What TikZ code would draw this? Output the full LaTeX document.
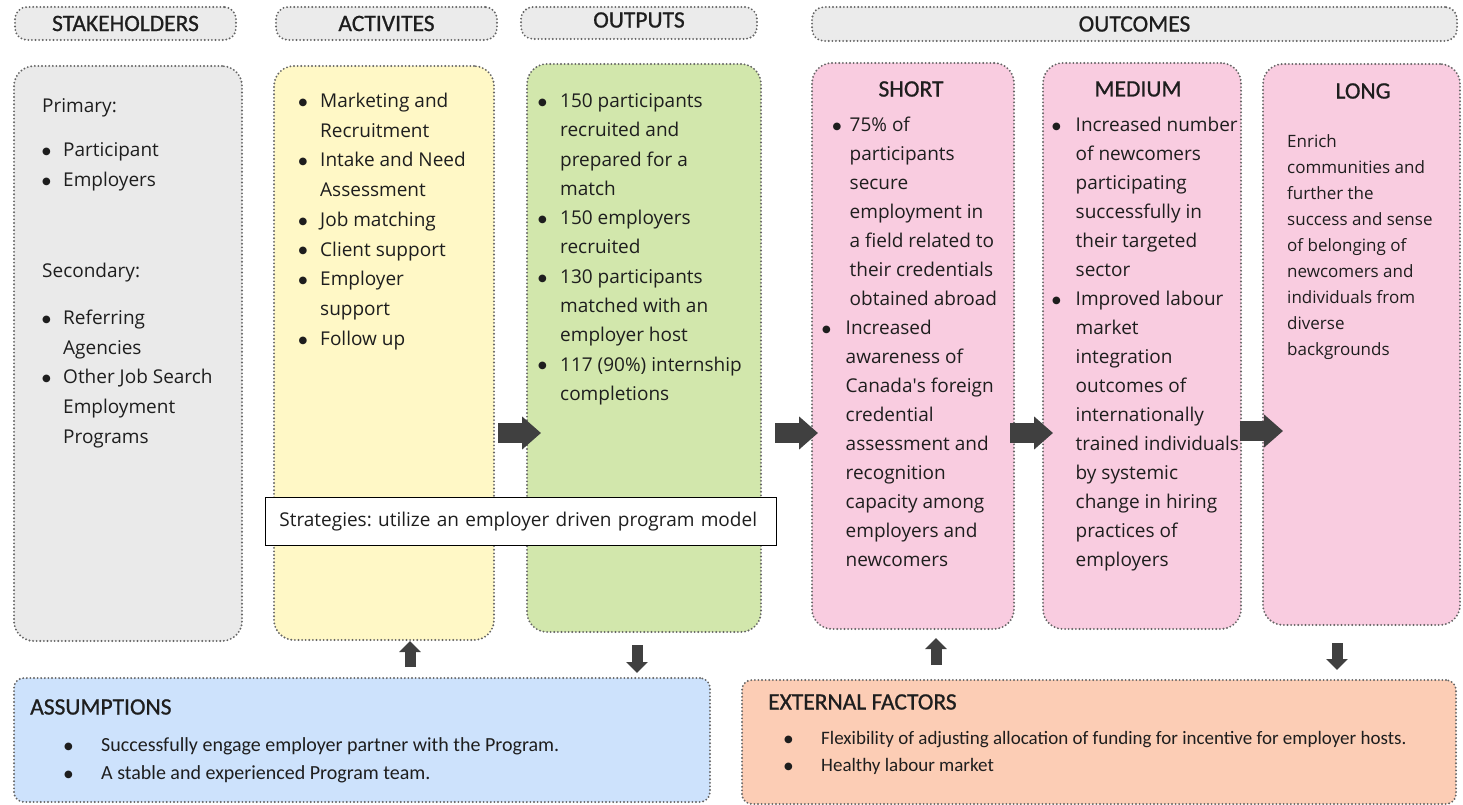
\documentclass[tikz,border=0pt]{standalone}
\usepackage{fontspec}
\setmainfont{Open Sans}
\newfontfamily\capfont{Carlito}
\newfontfamily\titlefont[FakeBold=0.8]{Carlito}
\newfontfamily\dotfont{DejaVu Sans}
\usetikzlibrary{arrows.meta,calc}

\definecolor{hdrfill}{RGB}{235,235,235}
\definecolor{stkfill}{RGB}{234,234,234}
\definecolor{actfill}{RGB}{255,248,198}
\definecolor{outfill}{RGB}{210,231,172}
\definecolor{pinkfill}{RGB}{249,204,224}
\definecolor{asmfill}{RGB}{205,226,252}
\definecolor{extfill}{RGB}{252,205,181}
\definecolor{dotgray}{RGB}{100,100,100}
\definecolor{arrowgray}{RGB}{64,64,64}
\definecolor{ink}{RGB}{30,30,30}

\frenchspacing
% bullet column of a given width, and the matching indent for wrapped lines
\newcommand{\bul}[1]{\makebox[#1][l]{\raisebox{2.2pt}{\dotfont\fontsize{10}{10}\selectfont ●}}}
\newcommand{\ind}[1]{\hspace*{#1}}

\tikzset{
  panel/.style={draw=dotgray, line width=2.1pt, dash pattern=on 0pt off 3.6pt,
    line cap=round, rounded corners=20pt, inner sep=0pt, outer sep=0pt, anchor=north west},
  hdr/.style={panel, fill=hdrfill, rounded corners=12pt},
  lowpanel/.style={panel, rounded corners=10pt},
  hdrtext/.style={font=\titlefont\fontsize{23.5}{28}\selectfont, text=ink, inner sep=0pt, anchor=center},
  body/.style={font=\fontsize{19}{#1}\selectfont, text=ink, align=left, inner sep=0pt, anchor=north west},
  lowtext/.style={font=\capfont\fontsize{#1}{28}\selectfont, text=ink, align=left, inner sep=0pt, anchor=north west},
  flow/.style={draw=arrowgray, line width=20pt, -{Triangle[length=19pt,width=32pt]}},
  vflow/.style={draw=arrowgray, line width=11pt, -{Triangle[length=11pt,width=21pt]}},
}

\begin{document}
\begin{tikzpicture}[x=1pt,y=-1pt]
\useasboundingbox (0,0) rectangle (1463,805);

% column headings
\node[hdr, minimum width=221pt, minimum height=33pt] (hstk) at (15,7) {};
\node[hdrtext] (hstkt) at (hstk.center) {STAKEHOLDERS};
\node[hdr, minimum width=221pt, minimum height=33pt] (hact) at (276,7) {};
\node[hdrtext] (hactt) at (hact.center) {ACTIVITES};
\node[hdr, minimum width=236pt, minimum height=32pt] (hout) at (521,7) {};
\node[hdrtext] (houtt) at ($(hout.center)+(0,-3)$) {OUTPUTS};
\node[hdr, minimum width=645pt, minimum height=34pt] (hoc) at (812,7) {};
\node[hdrtext] (hoct) at (hoc.center) {OUTCOMES};

% main columns
\node[panel, fill=stkfill, minimum width=228pt, minimum height=575pt] (stk) at (14,66) {};
\node[panel, fill=actfill, minimum width=220pt, minimum height=574pt] (act) at (274,66) {};
\node[panel, fill=outfill, minimum width=234pt, minimum height=568pt] (out) at (527,64) {};
\node[panel, fill=pinkfill, minimum width=202pt, minimum height=566pt] (short) at (812,63) {};
\node[panel, fill=pinkfill, minimum width=198pt, minimum height=566pt] (med) at (1043,63) {};
\node[panel, fill=pinkfill, minimum width=197pt, minimum height=561pt] (long) at (1263,64) {};

% stakeholders
\node[body=29.8] (stktxt) at (42,91.1) {\strut Primary:\\[15pt]
\bul{21pt}Participant\\
\bul{21pt}Employers\\[61pt]
Secondary:\\[17pt]
\bul{21pt}Referring\\
\ind{21pt}Agencies\\
\bul{21pt}Other Job Search\\
\ind{21pt}Employment\\
\ind{21pt}Programs};

% activities
\node[body=29.75] (acttxt) at (298.5,86.4) {\strut\bul{21.5pt}Marketing and\\
\ind{21.5pt}Recruitment\\
\bul{21.5pt}Intake and Need\\
\ind{21.5pt}Assessment\\
\bul{21.5pt}Job matching\\
\bul{21.5pt}Client support\\
\bul{21.5pt}Employer\\
\ind{21.5pt}support\\
\bul{21.5pt}Follow up};

% outputs
\node[body=29.3] (outtxt) at (538,86.7) {\strut\bul{22pt}150 participants\\
\ind{22pt}recruited and\\
\ind{22pt}prepared for a\\
\ind{22pt}match\\
\bul{22pt}150 employers\\
\ind{22pt}recruited\\
\bul{22pt}130 participants\\
\ind{22pt}matched with an\\
\ind{22pt}employer host\\
\bul{22pt}117 (90\%) internship\\
\ind{22pt}completions};

% short-term outcomes
\node[hdrtext] (shorth) at (911,89) {SHORT};
\node[body=29.05] (shorttxt) at (822,110.7) {\strut\ind{10.5pt}\bul{17pt}75\% of\\
\ind{27.5pt}participants\\
\ind{27.5pt}secure\\
\ind{27.5pt}employment in\\
\ind{27.5pt}a field related to\\
\ind{27.5pt}their credentials\\
\ind{27.5pt}obtained abroad\\
\bul{23.5pt}Increased\\
\ind{23.5pt}awareness of\\
\ind{23.5pt}Canada\textquotesingle s foreign\\
\ind{23.5pt}credential\\
\ind{23.5pt}assessment and\\
\ind{23.5pt}recognition\\
\ind{23.5pt}capacity among\\
\ind{23.5pt}employers and\\
\ind{23.5pt}newcomers};

% medium-term outcomes
\node[hdrtext] (medh) at (1138,89) {MEDIUM};
\node[body=29.05] (medtxt) at (1052,110.7) {\strut\bul{23.5pt}Increased number\\
\ind{23.5pt}of newcomers\\
\ind{23.5pt}participating\\
\ind{23.5pt}successfully in\\
\ind{23.5pt}their targeted\\
\ind{23.5pt}sector\\
\bul{23.5pt}Improved labour\\
\ind{23.5pt}market\\
\ind{23.5pt}integration\\
\ind{23.5pt}outcomes of\\
\ind{23.5pt}internationally\\
\ind{23.5pt}trained individuals\\
\ind{23.5pt}by systemic\\
\ind{23.5pt}change in hiring\\
\ind{23.5pt}practices of\\
\ind{23.5pt}employers};

% long-term outcomes
\node[hdrtext] (longh) at (1363,91) {LONG};
\node[font=\fontsize{17}{26}\selectfont, text=ink, align=left, inner sep=0pt, anchor=north west] (longtxt) at (1287,128.8) {\strut Enrich\\
communities and\\
further the\\
success and sense\\
of belonging of\\
newcomers and\\
individuals from\\
diverse\\
backgrounds};

% strategy banner across activities and outputs
\node[draw=black, line width=0.8pt, fill=white, anchor=north west, minimum height=48pt,
  text width=483pt, inner xsep=14pt, inner ysep=0pt, align=left, text=ink,
  font=\fontsize{19}{24}\selectfont] (strat) at (265,497)
  {Strategies: utilize an employer driven program model};

% assumptions and external factors
\node[lowpanel, fill=asmfill, minimum width=696pt, minimum height=124pt] (asm) at (14,678) {};
\node[font=\titlefont\fontsize{23.5}{28}\selectfont, text=ink, inner sep=0pt, anchor=base west] (asmh) at (30,714.5) {ASSUMPTIONS};
\node[lowtext=20] (asmtxt) at (64,731.9) {\strut\bul{37pt}Successfully engage employer partner with the Program.\\
\bul{37pt}A stable and experienced Program team.};

\node[lowpanel, fill=extfill, minimum width=714pt, minimum height=124pt] (ext) at (742,680) {};
\node[font=\titlefont\fontsize{23.5}{28}\selectfont, text=ink, inner sep=0pt, anchor=base west] (exth) at (768,709.5) {EXTERNAL FACTORS};
\node[font=\capfont\fontsize{19}{27}\selectfont, text=ink, align=left, inner sep=0pt, anchor=north west] (exttxt) at (784,725.6) {\strut\bul{37pt}Flexibility of adjusting allocation of funding for incentive for employer hosts.\\
\bul{37pt}Healthy labour market};

% flow arrows between columns
\coordinate (ay) at (0,433);
\coordinate (ay2) at (0,431);
\draw[flow] ($(act.east |- ay)+(4,0)$) -- ($(out.west |- ay)+(14,0)$);
\draw[flow] ($(out.east |- ay)+(14,0)$) -- ($(short.west |- ay)+(6,0)$);
\draw[flow] ($(short.east |- ay)+(-4,0)$) -- ($(med.west |- ay)+(10,0)$);
\draw[flow] ($(med.east |- ay2)+(-1,0)$) -- ($(long.west |- ay2)+(20,0)$);

% vertical arrows to and from the lower panels
\coordinate (vx1) at (410,0);
\coordinate (vx2) at (637,0);
\coordinate (vx3) at (936,0);
\coordinate (vx4) at (1337,0);
\draw[vflow] ($(asm.north -| vx1)+(0,-11)$) -- ($(act.south -| vx1)+(0,1)$);
\draw[vflow] ($(out.south -| vx2)+(0,13)$) -- ($(asm.north -| vx2)+(0,-5)$);
\draw[vflow] ($(ext.north -| vx3)+(0,-15)$) -- ($(short.south -| vx3)+(0,9)$);
\draw[vflow] ($(long.south -| vx4)+(0,18)$) -- ($(ext.north -| vx4)+(0,-10)$);
\end{tikzpicture}
\end{document}
